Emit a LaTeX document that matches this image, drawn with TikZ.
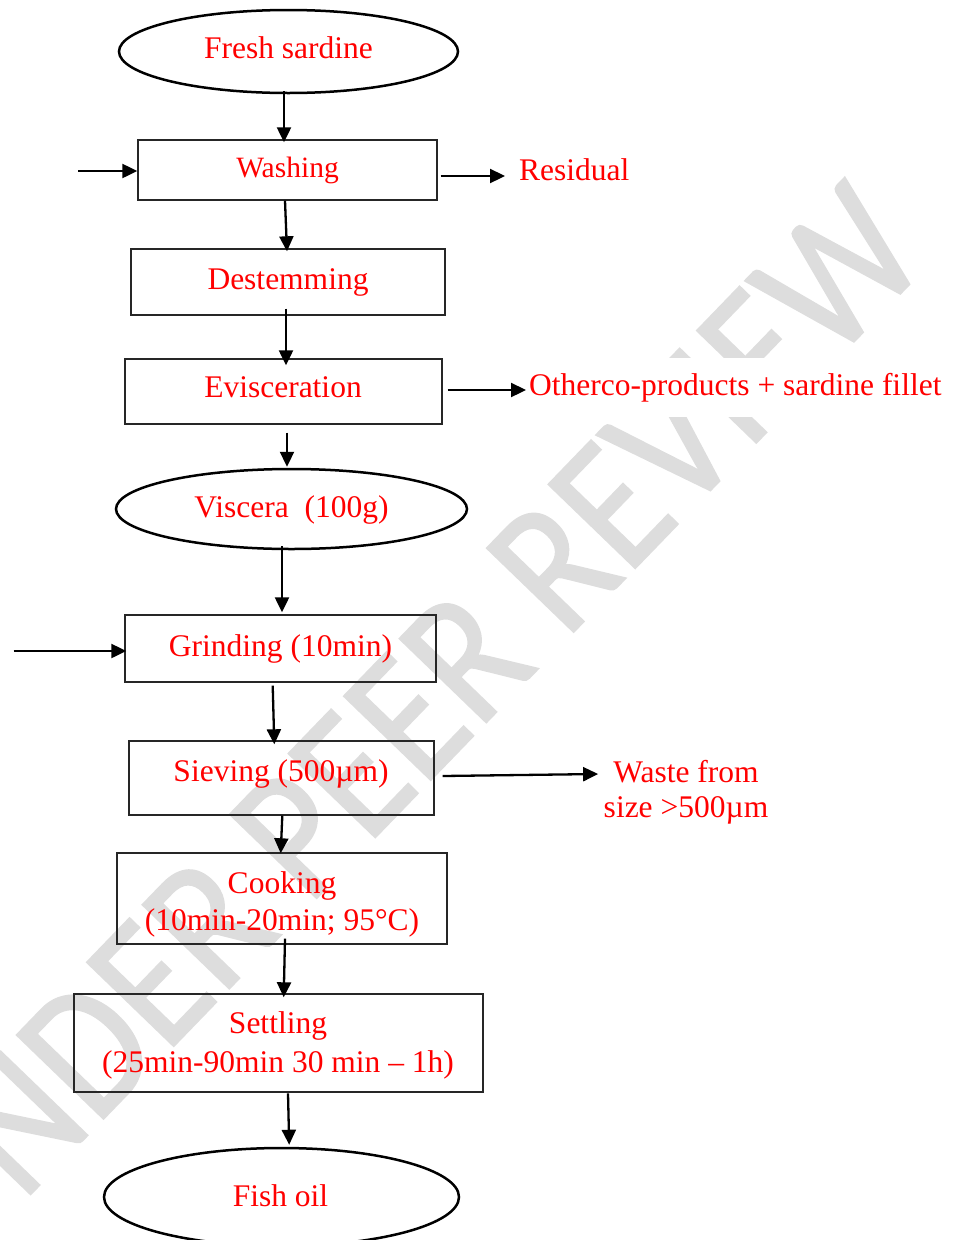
\documentclass[tikz,border=0pt]{standalone}
\usepackage{fontspec}
\setmainfont{Liberation Serif}
\newfontfamily\wmfont[FakeStretch=0.87,FakeBold=1]{Carlito}
\usetikzlibrary{shapes.geometric,arrows.meta}
\definecolor{wmgray}{RGB}{221,221,221}
\definecolor{txtred}{RGB}{255,0,0}
\begin{document}
\begin{tikzpicture}[x=1pt,y=-1pt,
  boxnode/.style={rectangle, draw=black!85, line width=1.4pt, inner sep=0pt},
  ovalnode/.style={ellipse, draw=black, line width=2.5pt, inner sep=0pt},
  lbl/.style={text=txtred, font=\fontsize{31.5}{38}\selectfont, inner sep=0pt, anchor=base},
  flow/.style={line width=2.3pt, -{Triangle[length=15pt,width=14pt]}},
  wmark/.style={text=wmgray, font=\wmfont\fontsize{188}{188}\selectfont, inner sep=0pt}]
\useasboundingbox (0,0) rectangle (956,1240);
\clip (0,0) rectangle (956,1240);
% watermark
\node[wmark, rotate=46] (wm) at (398,728) {UNDER PEER REVIEW};
% shapes
\node[ovalnode, minimum width=339pt, minimum height=83pt] (fresh) at (288.5,51.5) {};
\node[boxnode, minimum width=299pt, minimum height=60pt] (wash) at (287.5,170) {};
\node[boxnode, minimum width=314pt, minimum height=66pt] (destem) at (288,282) {};
\node[boxnode, minimum width=317pt, minimum height=65pt] (evisc) at (283.5,391.5) {};
\node[ovalnode, minimum width=351pt, minimum height=80pt] (visc) at (291.5,509) {};
\node[boxnode, minimum width=311pt, minimum height=67pt] (grind) at (280.5,648.5) {};
\node[boxnode, minimum width=305pt, minimum height=74pt] (sieve) at (281.5,778) {};
\node[boxnode, minimum width=330pt, minimum height=91pt] (cook) at (282,898.5) {};
\node[boxnode, minimum width=409pt, minimum height=98pt] (settle) at (278.5,1043) {};
\node[ovalnode, minimum width=355pt, minimum height=98pt] (fish) at (281.5,1197) {};
% labels
\node[lbl] (tfresh) at (288.5,58) {Fresh sardine};
\node[lbl, font=\fontsize{29.5}{36}\selectfont] (twash) at (287.5,177) {Washing};
\node[lbl, anchor=base west] (tresid) at (519,180) {Residual};
\node[lbl] (tdestem) at (288,289) {Destemming};
\node[lbl] (tevisc) at (283,397) {Evisceration};
\node[lbl, anchor=base west, fill=white, inner xsep=0pt, inner ysep=15pt] (tother) at (529,395) {Otherco-products + sardine fillet};
\node[lbl] (tvisc) at (291.5,517) {Viscera\ \ (100g)};
\node[lbl] (tgrind) at (280.5,656) {Grinding (10min)};
\node[lbl] (tsieve) at (281,781) {Sieving (500µm)};
\node[lbl] (twasteA) at (686,782) {Waste from};
\node[lbl] (twasteB) at (686,817) {size >500µm};
\node[lbl] (tcookA) at (282,893) {Cooking};
\node[lbl] (tcookB) at (282,930) {(10min-20min; 95°C)};
\node[lbl] (tsettleA) at (278,1033) {Settling};
\node[lbl] (tsettleB) at (278,1072) {(25min-90min 30 min – 1h)};
\node[lbl] (tfish) at (280.5,1206) {Fish oil};
% free ends
\coordinate (inA) at (78,171);
\coordinate (inB) at (13.5,651);
% connectors
\draw[flow] ([shift={(-4.5,-3)}]fresh.south) -- ([shift={(-3.5,3)}]wash.north);
\draw[flow] (inA) -- ([shift={(0,1)}]wash.west);
\draw[flow] ([shift={(3,6)}]wash.east) -- ([shift={(-14,-4)}]tresid.base west);
\draw[flow] ([shift={(-2.5,0)}]wash.south) -- ([shift={(-1,3)}]destem.north);
\draw[flow] ([shift={(-2,-7)}]destem.south) -- ([shift={(2.5,7)}]evisc.north);
\draw[flow] ([shift={(5,-1.5)}]evisc.east) -- ([shift={(-3,-5)}]tother.base west);
\draw[flow] ([shift={(3.5,8)}]evisc.south) -- ([shift={(-4.5,-1)}]visc.north);
\draw[flow] ([shift={(-9.5,-4)}]visc.south) -- ([shift={(1.5,-2)}]grind.north);
\draw[flow] (inB) -- ([shift={(2,2.5)}]grind.west);
\draw[flow] ([shift={(-7.8,3)}]grind.south) -- ([shift={(-7.2,4)}]sieve.north);
\draw[flow] ([shift={(8,-2)}]sieve.east) -- ([shift={(-15,-8)}]twasteA.base west);
\draw[flow] ([shift={(0.8,0)}]sieve.south) -- ([shift={(-1.3,1)}]cook.north);
\draw[flow] ([shift={(3,-6)}]cook.south) -- ([shift={(5.2,4)}]settle.north);
\draw[flow] ([shift={(9.5,0.7)}]settle.south) -- ([shift={(7.7,-2)}]fish.north);
\end{tikzpicture}
\end{document}
